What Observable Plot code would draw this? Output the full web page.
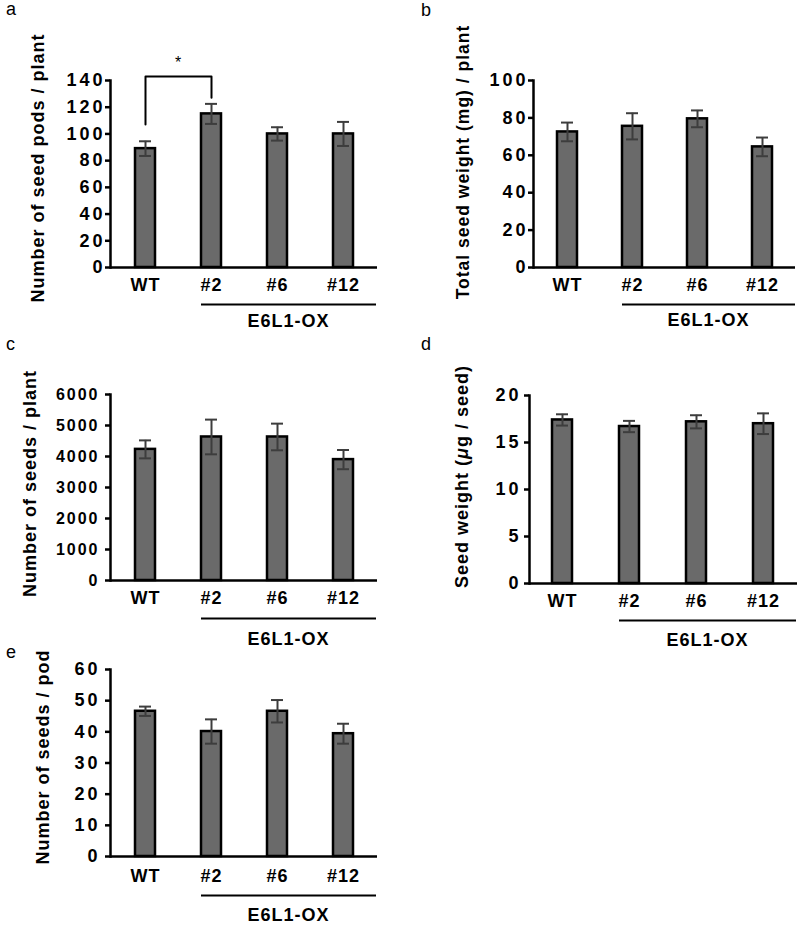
<!DOCTYPE html>
<html><head><meta charset="utf-8">
<script src="https://cdn.jsdelivr.net/npm/d3@7"></script>
<script src="https://cdn.jsdelivr.net/npm/@observablehq/plot@0.6"></script>
<style>
body{margin:0;background:#fff;}
#fig{position:relative;width:800px;height:925px;background:#fff;font-family:"Liberation Sans",Arial,sans-serif;}
.panel{position:absolute;}
.letter{position:absolute;font-size:18px;line-height:18px;color:#000;}
.panel svg g[aria-label="y-axis tick label"] text{letter-spacing:var(--tls,1px);}
</style></head><body><div id="fig"></div>
<script>
// ---- data ----
const categories = ["WT", "#2", "#6", "#12"];
const podsMean = [89, 115, 100, 100];
const podsErr = [5.5, 7.5, 5, 9];
const weightMean = [72.5, 75.5, 79.5, 64.5];
const weightErr = [5, 7, 4.5, 5];
const seedsMean = [4230, 4630, 4630, 3900];
const seedsErr = [290, 560, 430, 310];
const seedWtMean = [17.4, 16.7, 17.2, 17.0];
const seedWtErr = [0.6, 0.6, 0.7, 1.1];
const perPodMean = [46.6, 40.1, 46.6, 39.4];
const perPodErr = [1.5, 3.9, 3.6, 3.2];
const groups = [{label: "E6L1-OX", from: "#2", to: "#12", mid: "#6"}];
const sigBracket = [{k: "WT", v: 107}, {k: "WT", v: 143}, {k: "#2", v: 143}, {k: "#2", v: 127}];
const sigMark = [{k: "WT", v: 143, label: "*"}];

const fig = document.getElementById("fig");

function makePanel(p) {
  const data = categories.map((k, i) => ({k, v: p.mean[i], lo: p.mean[i] - p.err[i], hi: p.mean[i] + p.err[i]}));
  const errColor = "#3d3d3d";
  const marks = [
    Plot.barY(data, {x: "k", y: "v", fill: "#6a6a6a", stroke: "#000", strokeWidth: 2.5}),
    Plot.ruleX(data, {x: "k", y1: "lo", y2: "hi", stroke: errColor, strokeWidth: 2}),
    Plot.tickY(data, {x: "k", y: "hi", stroke: errColor, strokeWidth: 2, insetLeft: 4, insetRight: 4}),
    Plot.tickY(data, {x: "k", y: "lo", stroke: errColor, strokeWidth: 2, insetLeft: 4, insetRight: 4}),
    Plot.frame({anchor: "left", stroke: "#000", strokeWidth: 2.5}),
    Plot.ruleY([0], {stroke: "#000", strokeWidth: 2.5}),
    Plot.axisY({ticks: d3.range(0, p.max + p.step / 2, p.step), tickFormat: d => String(d), tickSize: 5, tickPadding: p.tickPad, strokeWidth: 2.5, fontSize: p.tickFont, label: null}),
    Plot.axisX({tickSize: 0, tickPadding: p.xPad, fontSize: 18, label: null}),
    Plot.ruleY(groups, {x1: "from", x2: "to", y: () => 0, dy: p.lineDy, insetRight: -23, stroke: "#000", strokeWidth: 2}),
    Plot.text(groups, {x: "mid", y: () => 0, text: "label", dy: p.groupDy, dx: 11, fontSize: 18}),
    Plot.text([p.title], {frameAnchor: "left", textAnchor: "middle", rotate: -90, dx: p.tdx, dy: p.tdy, fontSize: p.tfs}),
    ...(p.extra || [])
  ];
  const chart = Plot.plot({
    width: p.width, height: p.height,
    marginTop: p.mt, marginBottom: p.mb, marginLeft: p.ml, marginRight: p.mr,
    style: {fontFamily: "'Liberation Sans', Arial, sans-serif", fontWeight: "bold", fontSize: "18px", letterSpacing: "1px", color: "#000", background: "transparent", overflow: "visible"},
    x: {type: "band", domain: categories, paddingInner: 0.7, paddingOuter: 0.35},
    y: {domain: [0, p.max]},
    marks
  });
  const div = document.createElement("div");
  div.className = "panel";
  div.style.left = p.left + "px";
  div.style.top = p.top + "px";
  if (p.tls) div.style.setProperty("--tls", p.tls);
  div.appendChild(chart);
  fig.appendChild(div);
  const lt = document.createElement("div");
  lt.className = "letter";
  lt.textContent = p.letter;
  lt.style.left = p.lx + "px";
  lt.style.top = p.ly + "px";
  fig.appendChild(lt);
  // italic mu in titles
  d3.select(chart).selectAll("text").filter(function() { return this.textContent.includes("μ") && !this.querySelector("tspan"); })
    .each(function() {
      const t = this.textContent; const i = t.indexOf("μ");
      const s = d3.select(this); s.text(null);
      s.append("tspan").text(t.slice(0, i));
      s.append("tspan").attr("font-style", "italic").text("μ");
      s.append("tspan").text(t.slice(i + 1));
    });
}

makePanel({letter: "a", lx: 6, ly: 0, left: 0, top: 0, width: 400, height: 335, mt: 80, mb: 68, ml: 110, mr: 23,
  mean: podsMean, err: podsErr, max: 140, step: 20, tickFont: 18, tls: "3px", tickPad: 0, xPad: 11, lineDy: 37, groupDy: 54,
  title: "Number of seed pods / plant", tdx: -72, tdy: -6, tfs: 18,
  extra: [
    Plot.line(sigBracket, {x: "k", y: "v", stroke: "#000", strokeWidth: 2}),
    Plot.text(sigMark, {x: "k", y: "v", text: "label", dx: 33, dy: -8, lineAnchor: "bottom", fontSize: 16, fontWeight: "normal"})
  ]});

makePanel({letter: "b", lx: 421, ly: 1, left: 400, top: 0, width: 400, height: 335, mt: 80, mb: 68, ml: 133, mr: 5,
  mean: weightMean, err: weightErr, max: 100, step: 20, tickFont: 18, tls: "3px", tickPad: 0, xPad: 11, lineDy: 37, groupDy: 53,
  title: "Total seed weight (mg) / plant", tdx: -70, tdy: -12, tfs: 17.5});

makePanel({letter: "c", lx: 6, ly: 335, left: 0, top: 335, width: 400, height: 315, mt: 59, mb: 70, ml: 110, mr: 23,
  mean: seedsMean, err: seedsErr, max: 6000, step: 1000, tickFont: 16, tickPad: 6, tls: "2px", xPad: 11, lineDy: 38, groupDy: 59,
  title: "Number of seeds / plant", tdx: -80, tdy: -4, tfs: 18});

makePanel({letter: "d", lx: 421, ly: 335, left: 400, top: 335, width: 400, height: 315, mt: 60, mb: 67, ml: 129, mr: 3,
  mean: seedWtMean, err: seedWtErr, max: 20, step: 5, tickFont: 18, tls: "3px", tickPad: 3, xPad: 11, lineDy: 37, groupDy: 57,
  title: "Seed weight (μg / seed)", tdx: -67, tdy: -13, tfs: 18});

makePanel({letter: "e", lx: 6, ly: 643, left: 0, top: 650, width: 400, height: 275, mt: 19, mb: 69, ml: 110, mr: 23,
  mean: perPodMean, err: perPodErr, max: 60, step: 10, tickFont: 18, tls: "3px", tickPad: 5, xPad: 13, lineDy: 39, groupDy: 59,
  title: "Number of seeds / pod", tdx: -67, tdy: -6, tfs: 18});
</script>
</body></html>
